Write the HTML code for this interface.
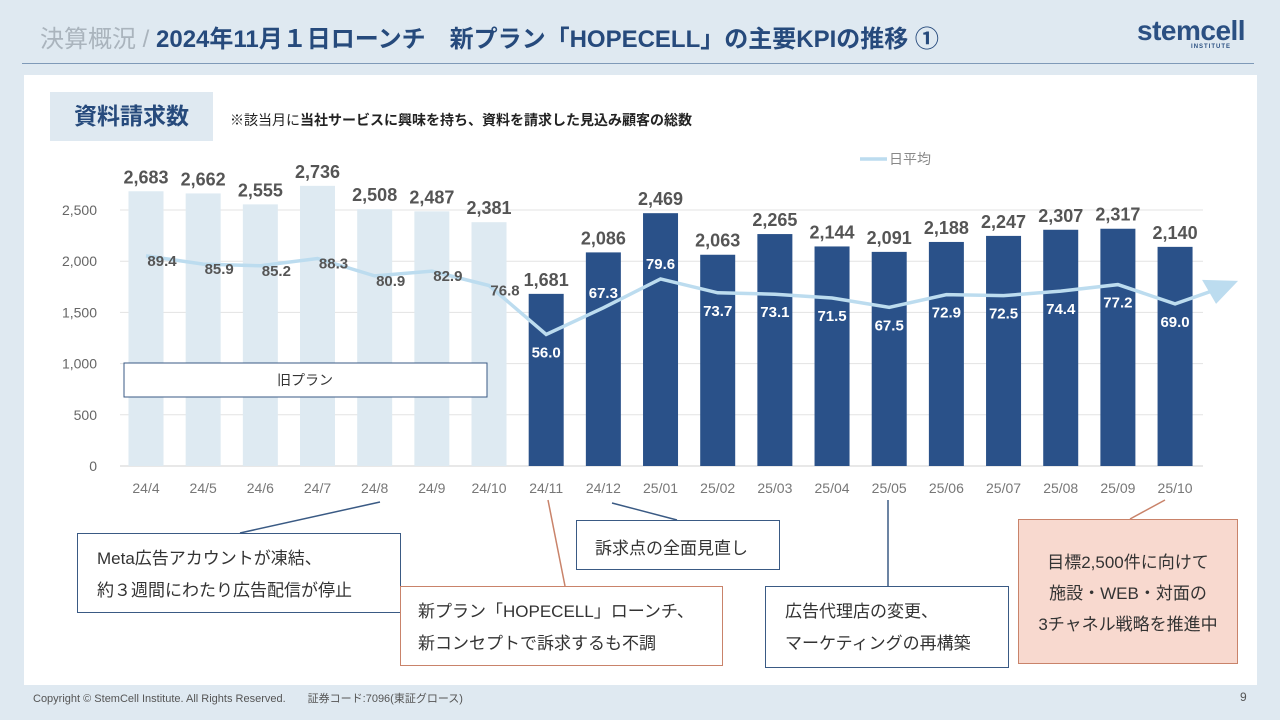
<!DOCTYPE html>
<html><head><meta charset="utf-8"><style>
body{margin:0;width:1280px;height:720px;background:#dfe9f1;font-family:"Liberation Sans","Noto Sans CJK JP",sans-serif;position:relative;overflow:hidden}
.abs{position:absolute}
.box{position:absolute;background:#fff;font-size:17px;color:#333;box-sizing:border-box}
</style></head><body>
<div class="abs" style="left:40px;top:19px;font-size:24px;font-weight:bold;color:#264a7c;white-space:nowrap"><span style="color:#aab4bd;font-weight:normal">決算概況 / </span>2024年11月１日ローンチ　新プラン「HOPECELL」の主要KPIの推移 ①</div>
<div class="abs" style="left:1137px;top:15px;color:#2b5082;font-size:28px;font-weight:bold;letter-spacing:-0.5px">stemcell<div style="font-size:6px;text-align:center;letter-spacing:1px;margin-top:-3px;padding-left:40px">INSTITUTE</div></div>
<div class="abs" style="left:22px;top:63px;width:1232px;height:1px;background:#7f9ab8"></div>
<div class="abs" style="left:24px;top:75px;width:1233px;height:610px;background:#fff"></div>
<div class="abs" style="left:50px;top:92px;width:163px;height:49px;background:#dfe9f1;color:#264a7c;font-size:23px;font-weight:bold;text-align:center;line-height:49px">資料請求数</div>
<div class="abs" style="left:230px;top:110px;font-size:14px;color:#222;font-weight:bold"><span style="font-weight:normal">※該当月に</span>当社サービスに興味を持ち、資料を請求した見込み顧客の総数</div>
<svg class="abs" style="left:0;top:0" width="1280" height="720" id="chart"></svg>
<div class="box" style="left:77px;top:533px;width:324px;height:80px;border:1.5px solid #3a5a84;padding:9px 0 0 19px;line-height:32px">Meta広告アカウントが凍結、<br>約３週間にわたり広告配信が停止</div>
<div class="box" style="left:400px;top:586px;width:323px;height:80px;border:1.5px solid #c9836a;padding:9px 0 0 17px;line-height:32px">新プラン「HOPECELL」ローンチ、<br>新コンセプトで訴求するも不調</div>
<div class="box" style="left:576px;top:520px;width:204px;height:50px;border:1.5px solid #3a5a84;padding:13px 0 0 18px">訴求点の全面見直し</div>
<div class="box" style="left:765px;top:586px;width:244px;height:82px;border:1.5px solid #3a5a84;padding:9px 0 0 19px;line-height:32px">広告代理店の変更、<br>マーケティングの再構築</div>
<div class="box" style="left:1018px;top:519px;width:220px;height:145px;border:1.5px solid #c9836a;background:#f8d9cf;text-align:center;padding-top:27px;line-height:31px">目標2,500件に向けて<br>施設・WEB・対面の<br>3チャネル戦略を推進中</div>
<div class="abs" style="left:33px;top:690px;font-size:11px;color:#555">Copyright © StemCell Institute. All Rights Reserved.　　証券コード:7096(東証グロース)</div>
<div class="abs" style="left:1240px;top:690px;font-size:12px;color:#555">9</div>
<script>
const categories=["24/4","24/5","24/6","24/7","24/8","24/9","24/10","24/11","24/12","25/01","25/02","25/03","25/04","25/05","25/06","25/07","25/08","25/09","25/10"];
const requests=[2683,2662,2555,2736,2508,2487,2381,1681,2086,2469,2063,2265,2144,2091,2188,2247,2307,2317,2140];
const dailyAvg=[89.4,85.9,85.2,88.3,80.9,82.9,76.8,56.0,67.3,79.6,73.7,73.1,71.5,67.5,72.9,72.5,74.4,77.2,69.0];
const yTicks=[0,500,1000,1500,2000,2500];
const oldPlanCount=7;
const svg=document.getElementById('chart');const NS='http://www.w3.org/2000/svg';
function mk(t,a,txt){const e=document.createElementNS(NS,t);for(const k in a)e.setAttribute(k,a[k]);if(txt!==undefined)e.textContent=txt;svg.appendChild(e);return e;}
const x=i=>146+i*57.17, y=v=>466-v*0.1024, yl=v=>466-v*2.35;
const F='Liberation Sans, Noto Sans CJK JP, sans-serif';
yTicks.forEach(t=>{const g=mk('line',{x1:120,x2:1203,y1:y(t),y2:y(t),stroke:t?'#e3e3e3':'#d0d0d0'});


const l=mk('text',{x:97,y:y(t)+5,'text-anchor':'end','font-size':14,fill:'#666','font-family':F},t.toLocaleString('en-US'));

});
requests.forEach((v,i)=>{const old=i<oldPlanCount;
const r=mk('rect',{x:x(i)-17.5,y:y(v),width:35,height:y(0)-y(v),fill:old?'#deeaf2':'#2a5189'});


const t=mk('text',{x:x(i),y:y(v)-8,'text-anchor':'middle','font-size':18,'font-weight':'bold',fill:'#555','font-family':F},v.toLocaleString('en-US'));


const c=mk('text',{x:x(i),y:493,'text-anchor':'middle','font-size':14,fill:'#777','font-family':F},categories[i]);

});
const ob=mk('rect',{x:124,y:363,width:363,height:34,fill:'#fff',stroke:'#3a5a84','stroke-width':1});


const ot=mk('text',{x:305,y:385,'text-anchor':'middle','font-size':14,fill:'#333','font-family':F},'旧プラン');


const n=dailyAvg.length;
let pts=dailyAvg.map((v,i)=>x(i)+','+yl(v)).join(' ');
const tipX=x(n-1)+63, tipY=yl(dailyAvg[n-1])-23;
const ln=mk('polyline',{points:pts+' '+(tipX-20)+','+(tipY+8),fill:'none',stroke:'#bcdcef','stroke-width':3.5});


const ar=mk('polygon',{points:`${tipX},${tipY} ${tipX-36},${tipY-1} ${tipX-22},${tipY+23}`,fill:'#bcdcef'});


dailyAvg.forEach((v,i)=>{const old=i<oldPlanCount;
const above=!old&&i>0&&v>dailyAvg[i-1]+10;
const ly=old?yl(v)+10:(above?yl(v)-10:yl(v)+23);
const t=mk('text',{x:x(i)+(old?16:0),y:ly,'text-anchor':'middle','font-size':15,'font-weight':'bold',fill:old?'#555':'#fff','font-family':F},v.toFixed(1));

});
const lg=mk('line',{x1:860,x2:887,y1:159,y2:159,stroke:'#bcdcef','stroke-width':3.5});


const lt=mk('text',{x:889,y:164,'font-size':14,fill:'#888','font-family':F},'日平均');


[[240,533,380,502,'#3a5a84'],[565,586,548,500,'#c9836a'],[677,520,612,503,'#3a5a84'],[888,586,888,500,'#3a5a84'],[1130,519,1165,500,'#c9836a']].forEach(c=>{
const l=mk('line',{x1:c[0],y1:c[1],x2:c[2],y2:c[3],stroke:c[4],'stroke-width':1.5});

});
</script>
</body></html>
